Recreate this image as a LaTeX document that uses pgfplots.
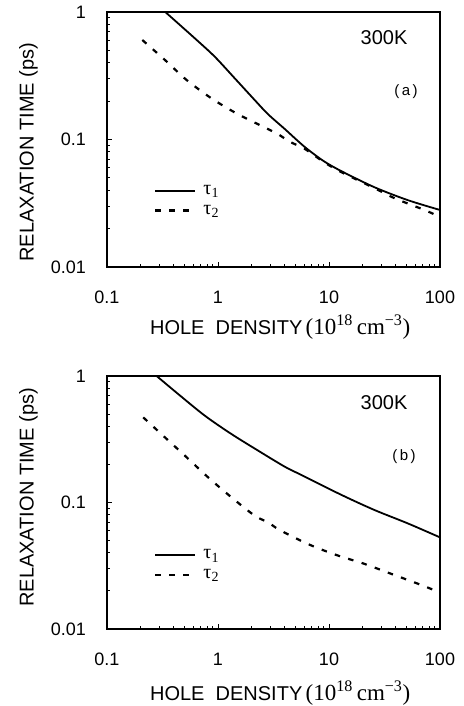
\documentclass[border=0pt]{standalone}
\usepackage{fontspec}
\setmainfont{Liberation Sans}
\newfontfamily\serif{Liberation Serif}
\usepackage{pgfplots}
\pgfplotsset{compat=1.18}

\begin{document}
\begin{tikzpicture}
\useasboundingbox (0,0) rectangle (463pt,706pt);

% (a)
\begin{axis}[at={(107pt,439pt)}, height=255pt,
  scale only axis, width=333pt,
  xmode=log, ymode=log,
  xmin=0.1, xmax=100, ymin=0.01, ymax=1,
  xtick={0.1,1,10,100}, xticklabels={0.1,1,10,100},
  ytick={0.01,0.1,1}, yticklabels={0.01,0.1,1},
  minor xtick={0.2,0.3,0.4,0.5,0.6,0.7,0.8,0.9,2,3,4,5,6,7,8,9,20,30,40,50,60,70,80,90},
  minor ytick={0.02,0.03,0.04,0.05,0.06,0.07,0.08,0.09,0.2,0.3,0.4,0.5,0.6,0.7,0.8,0.9},
  xtick pos=bottom, ytick pos=left,
  tick align=inside,
  major tick length=5pt, minor tick length=3.5pt,
  line width=2pt,
  tick style={black, line width=1pt},
  axis line style={line width=2pt},
  axis background/.style={draw=black, line width=2pt},
  ticklabel style={font=\fontsize{18}{20}\selectfont, inner sep=0pt},
  xticklabel shift=23pt, yticklabel shift=20pt,
  label style={font=\fontsize{20}{22}\selectfont},
  xlabel={HOLE\ \ DENSITY\,{\serif\fontsize{23}{24}\selectfont(10\textsuperscript{18}\,cm\textsuperscript{−3})}},
  ylabel={RELAXATION TIME (ps)},
  xlabel style={at={(axis description cs:0.52,-0.263)}, anchor=base},
  ylabel style={at={(axis description cs:-0.236,0.45)}, anchor=center},
  legend style={draw=none, fill=none, font=\fontsize{20}{22}\selectfont\serif,
    row sep=5pt, anchor=west, at={(axis description cs:0.13,0.26)}},
  legend cell align=left,
  legend image code/.code={\draw[#1] (0pt,0pt) -- (40pt,0pt); \path (45pt,0pt);}]
\addplot[black, line width=1.8pt, smooth] coordinates {
  (0.335,1.0) (0.618,0.622) (0.935,0.446) (1.415,0.302) (2.14,0.204) (2.82,0.158)
  (3.99,0.121) (5.2,0.098) (6.45,0.0835) (9,0.0675) (12.9,0.0565) (25.7,0.0422)
  (51,0.0335) (100,0.028)};
\addlegendentry{τ\textsubscript{1}}
\addplot[black, line width=2.2pt, dash pattern=on 5.5pt off 8.5pt, smooth] coordinates {
  (0.208,0.603) (0.333,0.42) (0.521,0.293) (0.875,0.21) (1.47,0.160) (2.55,0.126)
  (3.48,0.110) (4.43,0.096) (6.04,0.0845) (9,0.0665) (12.9,0.0555) (25.7,0.0415)
  (39,0.0346) (72.4,0.028) (96,0.0251)};
\addlegendentry{τ\textsubscript{2}}
\node[font=\fontsize{20}{22}\selectfont] at (axis description cs:0.832,0.898) {300K};
\node[font=\fontsize{15}{17}\selectfont] at (axis description cs:0.898,0.686) {(\,a\,)};
\end{axis}

% (b)
\begin{axis}[at={(107pt,77pt)}, height=253pt,
  scale only axis, width=333pt,
  xmode=log, ymode=log,
  xmin=0.1, xmax=100, ymin=0.01, ymax=1,
  xtick={0.1,1,10,100}, xticklabels={0.1,1,10,100},
  ytick={0.01,0.1,1}, yticklabels={0.01,0.1,1},
  minor xtick={0.2,0.3,0.4,0.5,0.6,0.7,0.8,0.9,2,3,4,5,6,7,8,9,20,30,40,50,60,70,80,90},
  minor ytick={0.02,0.03,0.04,0.05,0.06,0.07,0.08,0.09,0.2,0.3,0.4,0.5,0.6,0.7,0.8,0.9},
  xtick pos=bottom, ytick pos=left,
  tick align=inside,
  major tick length=5pt, minor tick length=3.5pt,
  line width=2pt,
  tick style={black, line width=1pt},
  axis line style={line width=2pt},
  axis background/.style={draw=black, line width=2pt},
  ticklabel style={font=\fontsize{18}{20}\selectfont, inner sep=0pt},
  xticklabel shift=23pt, yticklabel shift=20pt,
  label style={font=\fontsize{20}{22}\selectfont},
  xlabel={HOLE\ \ DENSITY\,{\serif\fontsize{23}{24}\selectfont(10\textsuperscript{18}\,cm\textsuperscript{−3})}},
  ylabel={RELAXATION TIME (ps)},
  xlabel style={at={(axis description cs:0.52,-0.281)}, anchor=base},
  ylabel style={at={(axis description cs:-0.236,0.52)}, anchor=center},
  legend style={draw=none, fill=none, font=\fontsize{20}{22}\selectfont\serif,
    row sep=5pt, anchor=west, at={(axis description cs:0.13,0.253)}},
  legend cell align=left,
  legend image code/.code={\draw[#1] (0pt,0pt) -- (40pt,0pt); \path (45pt,0pt);}]
\addplot[black, line width=1.8pt, smooth] coordinates {
  (0.28,1.0) (0.438,0.72) (0.76,0.486) (1.32,0.348) (2.30,0.257) (3.99,0.192)
  (5.64,0.165) (12.9,0.115) (25.7,0.0872) (51,0.0685) (100,0.053)};
\addlegendentry{τ\textsubscript{1}}
\addplot[black, line width=2.2pt, dash pattern=on 5.5pt off 8.5pt, smooth] coordinates {
  (0.212,0.471) (0.333,0.327) (0.521,0.228) (0.815,0.158) (1.32,0.110) (2.14,0.0787)
  (2.82,0.0697) (3.6,0.0606) (6.45,0.047) (11.6,0.0385) (20.9,0.0327) (37.6,0.027)
  (67.6,0.0223) (96,0.0197)};
\addlegendentry{τ\textsubscript{2}}
\node[font=\fontsize{20}{22}\selectfont] at (axis description cs:0.832,0.893) {300K};
\node[font=\fontsize{15}{17}\selectfont] at (axis description cs:0.892,0.68) {(\,b\,)};
\end{axis}
\end{tikzpicture}
\end{document}
